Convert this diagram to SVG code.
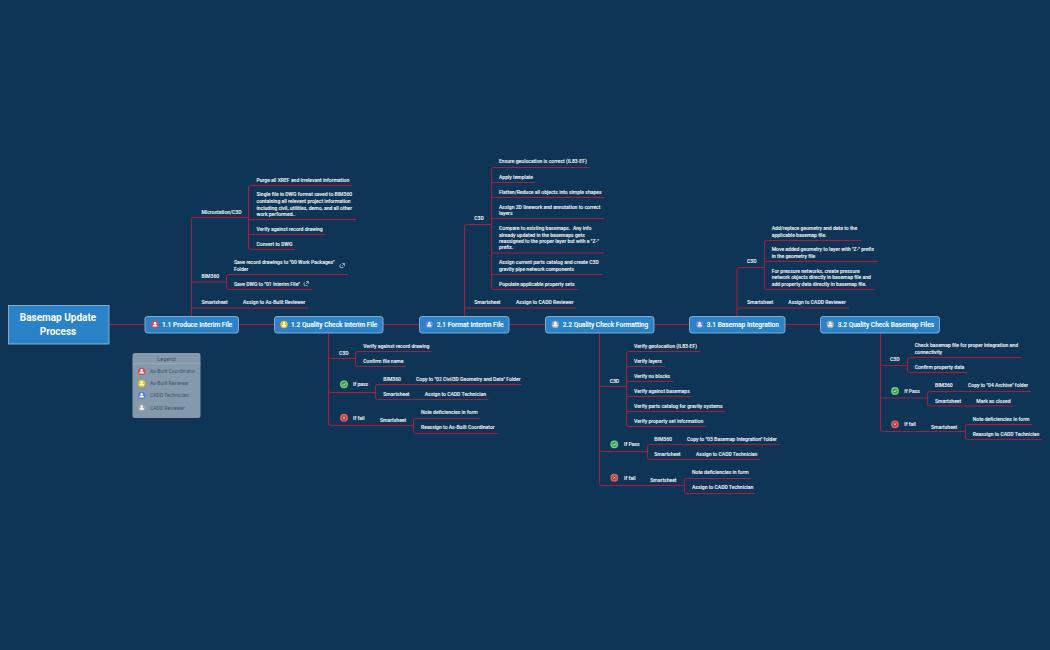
<svg xmlns="http://www.w3.org/2000/svg" width="1050" height="650" viewBox="0 0 1050 650">
<style>
text{font-family:Roboto,"Liberation Sans",sans-serif;fill:#eef3f7}
.t{font-size:5.05px;font-weight:500;stroke:#eef3f7;stroke-width:.08}
.m{font-size:6.6px;font-weight:500;fill:#fff;stroke:#fff;stroke-width:.1}
.r{font-size:10px;font-weight:700;fill:#fff;text-anchor:middle}
.l{font-size:5.05px;fill:#3f5569}
.n{fill:#2a83c8;stroke:#8fb3cf;stroke-width:.9}
.c{fill:none;stroke:#ad1a3e;stroke-width:1}
</style>
<defs>
<g id="u"><circle r="3.7" fill="var(--c)"/><circle cy="-1.2" r="1.2" fill="#fff"/><path d="M-2.2 2V1.2Q-2.2 .2-1 0H1Q2.2 .2 2.2 1.2V2Z" fill="#fff"/></g>
<g id="ok"><circle r="3.9" fill="#6ccb78"/><circle r="2.5" fill="#2e9b46"/><path d="M-1.2 0L-.3 1L1.3-.9" fill="none" stroke="#fff" stroke-width=".8"/></g>
<g id="no"><circle r="3.9" fill="#e2575a"/><circle r="2.5" fill="#b9303a"/><path d="M-.9-.9L.9.9M.9-.9L-.9.9" stroke="#fff" stroke-width=".8"/></g>
<g id="x"><path d="M-1.8-.9H-2.4V2.1H.6V1.5M-.6-2H2V.6M2-2L-.5.5" fill="none" stroke="#dfe8ef" stroke-width=".6"/></g>
</defs>
<rect width="1050" height="650" fill="#0e3556"/>
<g id="connectors" class="c">
<path d="M109 324.5H145M238 324.5H274M383 324.5H419M509 324.5H545M654 324.5H689M785 324.5H820"/>
<path d="M191.5 316V219.5Q191.5 217.5 193.5 217.5H248.5M191.5 284Q191.5 282 193.5 282H226.5M191.5 310Q191.5 308 193.5 308H308"/>
<path d="M248.5 187.5Q248.5 185.5 250.5 185.5H352M248.5 187V247Q248.5 249.5 250.5 249.5H295M248.5 219.5H356M248.5 234.5H325"/>
<path d="M226.5 276.5Q226.5 274.5 228.5 274.5H348M226.5 276V287Q226.5 289.5 228.5 289.5H312"/>
<path d="M328.5 333V423.5Q328.5 425.5 330.5 425.5H413.5M328.5 356.5Q328.5 358.5 330.5 358.5H355.5M328.5 390Q328.5 392.5 330.5 392.5H375.5"/>
<path d="M355.5 358V353.5Q355.5 351.5 357.5 351.5H431.5M355.5 358V364Q355.5 366.5 357.5 366.5H406"/>
<path d="M375.5 392V386.5Q375.5 384.5 377.5 384.5H521M375.5 392V397.5Q375.5 399.5 377.5 399.5H488.5"/>
<path d="M413.5 425V420.5Q413.5 418.5 415.5 418.5H480.5M413.5 425V431Q413.5 433.5 415.5 433.5H497.5"/>
<path d="M464.5 316V226.5Q464.5 224.5 466.5 224.5H491.5M464.5 310Q464.5 308 466.5 308H576"/>
<path d="M491.5 169.5Q491.5 167.5 493.5 167.5H589.5M491.5 169V287Q491.5 289.5 493.5 289.5H577.5M491.5 184.5Q491.5 182.5 493.5 182.5H535.5M491.5 199.5Q491.5 197.5 493.5 197.5H604M491.5 220.5Q491.5 218.5 493.5 218.5H604M491.5 255Q491.5 253 493.5 253H604M491.5 276.5Q491.5 274.5 493.5 274.5H603"/>
<path d="M599.5 333V483.5Q599.5 485.5 601.5 485.5H684.5M599.5 384.5Q599.5 386.5 601.5 386.5H626.5M599.5 449.5Q599.5 451.5 601.5 451.5H647.5"/>
<path d="M626.5 353.5Q626.5 351.5 628.5 351.5H699.5M626.5 353V424Q626.5 426.5 628.5 426.5H706M626.5 368.5Q626.5 366.5 628.5 366.5H665M626.5 383.5Q626.5 381.5 628.5 381.5H673.5M626.5 398.5Q626.5 396.5 628.5 396.5H692.5M626.5 413.5Q626.5 411.5 628.5 411.5H725.5"/>
<path d="M647.5 452V446.5Q647.5 444.5 649.5 444.5H780M647.5 452V457.5Q647.5 459.5 649.5 459.5H760"/>
<path d="M684.5 485V480.5Q684.5 478.5 686.5 478.5H751.5M684.5 485V491.5Q684.5 493.5 686.5 493.5H755.5"/>
<path d="M737 316V269.5Q737 267.5 739 267.5H764M737 310Q737 308 739 308H849"/>
<path d="M764.5 242.5Q764.5 240.5 766.5 240.5H861M764.5 242V287Q764.5 289.5 766.5 289.5H874.5M764.5 261.5H878"/>
<path d="M880.5 333V429.5Q880.5 431.5 882.5 431.5H965.5M880.5 363Q880.5 365.5 882.5 365.5H907.5M880.5 396Q880.5 398 882.5 398H927.5"/>
<path d="M907.5 365V359.5Q907.5 357.5 909.5 357.5H1021.5M907.5 365V370Q907.5 372.5 909.5 372.5H967"/>
<path d="M927.5 398V393.5Q927.5 391.5 929.5 391.5H1031M927.5 398V404Q927.5 406 929.5 406H1013"/>
<path d="M965.5 431V426.5Q965.5 424.5 967.5 424.5H1032M965.5 431V437Q965.5 439.5 967.5 439.5H1042"/>
</g>
<g id="root"><rect class="n" x="8.5" y="305.5" width="100.5" height="38.5"/><text class="r" x="58" y="321.3">Basemap Update</text><text class="r" x="58" y="334.6">Process</text></g>
<g id="node-1-1"><rect class="n" x="145" y="316.5" width="93.5" height="16.5" rx="2.5"/><use href="#u" x="155" y="324.5" style="--c:#e5484d"/><text class="m" x="162" y="326.9">1.1 Produce Interim File</text></g>
<g id="node-1-2"><rect class="n" x="274.5" y="316.5" width="108.5" height="16.5" rx="2.5"/><use href="#u" x="284" y="324.5" style="--c:#f2c200"/><text class="m" x="291" y="326.9">1.2 Quality Check Interim File</text></g>
<g id="node-2-1"><rect class="n" x="419.5" y="316.5" width="89.5" height="16.5" rx="2.5"/><use href="#u" x="429.3" y="324.5" style="--c:#6f86f2"/><text class="m" x="436.7" y="326.9">2.1 Format Interim File</text></g>
<g id="node-2-2"><rect class="n" x="545.5" y="316.5" width="108.5" height="16.5" rx="2.5"/><use href="#u" x="555.3" y="324.5" style="--c:#a3a9ad"/><text class="m" x="562.7" y="326.9">2.2 Quality Check Formatting</text></g>
<g id="node-3-1"><rect class="n" x="689.5" y="316.5" width="95.5" height="16.5" rx="2.5"/><use href="#u" x="699.7" y="324.5" style="--c:#6f86f2"/><text class="m" x="706.7" y="326.9">3.1 Basemap Integration</text></g>
<g id="node-3-2"><rect class="n" x="820.5" y="316.5" width="119" height="16.5" rx="2.5"/><use href="#u" x="830.3" y="324.5" style="--c:#a3a9ad"/><text class="m" x="837.7" y="326.9">3.2 Quality Check Basemap Files</text></g>
<g id="legend"><rect x="132.5" y="353" width="68" height="65" rx="2.5" fill="#8499ab"/><path d="M132.5 363.8H200.5" stroke="#a3b4c2" stroke-width=".7"/><text class="l" x="166.5" y="360.6" text-anchor="middle" style="font-size:5.6px">Legend</text>
<use href="#u" x="141.7" y="371.5" style="--c:#e5484d"/><text class="l" x="150" y="373.3">As-Built Coordinator</text>
<use href="#u" x="141.7" y="383.5" style="--c:#f2c200"/><text class="l" x="150" y="385.3">As-Built Reviewer</text>
<use href="#u" x="141.7" y="395.5" style="--c:#5b78f0"/><text class="l" x="150" y="397.3">CADD Technician</text>
<use href="#u" x="141.7" y="407.7" style="--c:#a3a3a3"/><text class="l" x="150" y="409.8">CADD Reviewer</text></g>
<g id="leaf-1-1" class="t">
<text x="201.5" y="213.5">Microstation/C3D</text>
<text x="256.5" y="181.5">Purge all XREF and irrelevant information</text>
<text x="256.5" y="196.3">Single file in DWG format saved to BIM360</text>
<text x="256.5" y="202.9">containing all relevant project information</text>
<text x="256.5" y="209.5">including civil, utilities, demo, and all other</text>
<text x="256.5" y="216.1">work performed..</text>
<text x="256.5" y="231">Verify against record drawing</text>
<text x="256.5" y="246">Convert to DWG</text>
<text x="201.5" y="277.9">BIM360</text>
<text x="234" y="264">Save record drawings to "00 Work Packages"</text>
<text x="234" y="270.8">Folder</text>
<text x="234" y="285.8">Save DWG to "01 Interim File"</text>
<use href="#x" x="342.5" y="265.5"/><use href="#x" x="306.5" y="283.5"/>
<text x="201.5" y="303.9">Smartsheet</text>
<text x="243" y="303.9">Assign to As-Built Reviewer</text>
</g>
<g id="leaf-1-2" class="t">
<text x="339" y="354.9">C3D</text>
<text x="363.3" y="347.6">Verify against record drawing</text>
<text x="363.3" y="362.6">Confirm file name</text>
<use href="#ok" x="344" y="384.3"/><text x="353" y="386.4">If pass</text>
<text x="383.3" y="380.9">BIM360</text><text x="416" y="380.9">Copy to "02 Civil3D Geometry and Data" Folder</text>
<text x="383.3" y="395.9">Smartsheet</text><text x="424.7" y="395.9">Assign to CADD Technician</text>
<use href="#no" x="344" y="417.7"/><text x="353" y="419.6">If fail</text>
<text x="380" y="421.9">Smartsheet</text>
<text x="421" y="414.2">Note deficiencies in form</text>
<text x="421" y="429.2">Reassign to As-Built Coordinator</text>
</g>
<g id="leaf-2-1" class="t">
<text x="474.3" y="220.2">C3D</text>
<text x="499" y="163.2">Ensure geolocation is correct (IL83-EF)</text>
<text x="499" y="178.6">Apply template</text>
<text x="499" y="193.6">Flatten/Reduce all objects into simple shapes</text>
<text x="499" y="208.6">Assign 2D linework and annotation to correct</text>
<text x="499" y="215">layers</text>
<text x="499" y="229.9" xml:space="preserve">Compare to existing basemaps.  Any info</text>
<text x="499" y="236.5">already updated in the basemaps gets</text>
<text x="499" y="243">reassigned to the proper layer but with a "Z-"</text>
<text x="499" y="249.4">prefix.</text>
<text x="499" y="263.9">Assign current parts catalog and create C3D</text>
<text x="499" y="270.9">gravity pipe network components</text>
<text x="499" y="285.9">Populate applicable property sets</text>
<text x="474.3" y="303.9">Smartsheet</text><text x="516" y="303.9">Assign to CADD Reviewer</text>
</g>
<g id="leaf-2-2" class="t">
<text x="609.7" y="382.9">C3D</text>
<text x="634" y="347.6">Verify geolocation (IL83-EF)</text>
<text x="634" y="362.6">Verify layers</text>
<text x="634" y="377.6">Verify no blocks</text>
<text x="634" y="392.6">Verify against basemaps</text>
<text x="634" y="407.6">Verify parts catalog for gravity systems</text>
<text x="634" y="422.6">Verify property set information</text>
<use href="#ok" x="614.3" y="444.3"/><text x="624" y="446.2">If Pass</text>
<text x="654.3" y="440.9">BIM360</text><text x="687" y="440.9">Copy to "03 Basemap Integration" folder</text>
<text x="654.3" y="455.9">Smartsheet</text><text x="696" y="455.9">Assign to CADD Technician</text>
<use href="#no" x="614.3" y="477.7"/><text x="624" y="479.6">If fail</text>
<text x="650.3" y="482.2">Smartsheet</text>
<text x="692" y="474.2">Note deficiencies in form</text>
<text x="692" y="489.2">Assign to CADD Technician</text>
</g>
<g id="leaf-3-1" class="t">
<text x="747" y="262.9">C3D</text>
<text x="771.7" y="229.9">Add/replace geometry and data to the</text>
<text x="771.7" y="236.6">applicable basemap file.</text>
<text x="771.7" y="251.2">Move added geometry to layer with "Z-" prefix</text>
<text x="771.7" y="257.9">in the geometry file</text>
<text x="771.7" y="272.9">For pressure networks, create pressure</text>
<text x="771.7" y="279.2">network objects directly in basemap file and</text>
<text x="771.7" y="285.6">add property data directly in basemap file.</text>
<text x="747" y="303.9">Smartsheet</text><text x="788.3" y="303.9">Assign to CADD Reviewer</text>
</g>
<g id="leaf-3-2" class="t">
<text x="890" y="361.2">C3D</text>
<text x="914.7" y="347.2">Check basemap file for proper integration and</text>
<text x="914.7" y="353.9">connectivity</text>
<text x="914.7" y="368.9">Confirm property data</text>
<use href="#ok" x="895" y="391"/><text x="904.3" y="392.9">If Pass</text>
<text x="935" y="387.2">BIM360</text><text x="968" y="387.2">Copy to "04 Archive" folder</text>
<text x="935" y="402.6">Smartsheet</text><text x="976.3" y="402.6">Mark as closed</text>
<use href="#no" x="895" y="424.3"/><text x="904.3" y="426.2">If fail</text>
<text x="931" y="428.6">Smartsheet</text>
<text x="972.7" y="420.9">Note deficiencies in form</text>
<text x="972.7" y="435.9">Reassign to CADD Technician</text>
</g>
</svg>
